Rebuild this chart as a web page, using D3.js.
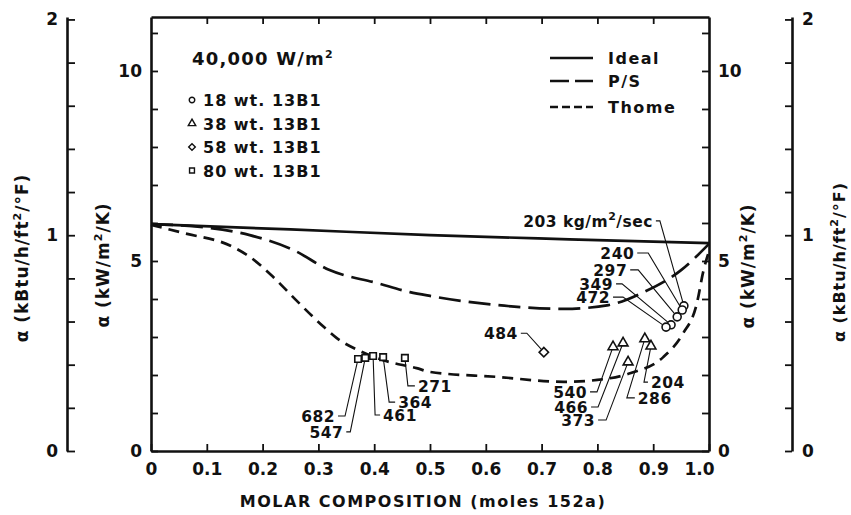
<!DOCTYPE html>
<html>
<head>
<meta charset="utf-8">
<script src="https://cdn.jsdelivr.net/npm/d3@7"></script>
<style>
  body { margin: 0; background: #fff; }
  svg text { font-family: "DejaVu Sans", "Liberation Sans", Arial, sans-serif; font-weight: bold; fill: #111; }
</style>
</head>
<body>
<svg id="chart" width="851" height="515"></svg>
<script>
// curves: [molar fraction 152a, alpha kW/m2/K]
const idealCurve = [[0, 5.97], [0.25, 5.83], [0.5, 5.68], [0.75, 5.57], [1.0, 5.47]];
const psCurve = [[0, 5.97], [0.1, 5.88], [0.177, 5.68], [0.255, 5.29], [0.32, 4.76], [0.405, 4.42],
  [0.464, 4.18], [0.5, 4.08], [0.62, 3.84], [0.74, 3.74], [0.82, 3.84], [0.88, 4.16], [0.95, 4.76], [1.0, 5.45]];
const thomeCurve = [[0, 5.95], [0.057, 5.74], [0.147, 5.37], [0.177, 5.11], [0.219, 4.58], [0.26, 3.97],
  [0.31, 3.26], [0.333, 2.97], [0.37, 2.66], [0.416, 2.39], [0.476, 2.18], [0.5, 2.08], [0.62, 1.95],
  [0.74, 1.82], [0.8, 1.87], [0.86, 2.05], [0.918, 2.47], [0.953, 3.08], [0.978, 3.87], [0.99, 4.74], [1.0, 5.26]];

// measured points, mass flux in kg/m2/sec
const flux18 = [203, 240, 297, 349, 472];
const x18 = [0.955, 0.952, 0.943, 0.932, 0.923];
const a18 = [3.82, 3.71, 3.53, 3.32, 3.26];
const flux38 = [540, 466, 373, 286, 204];
const x38 = [0.828, 0.846, 0.855, 0.885, 0.896];
const a38 = [2.74, 2.84, 2.34, 2.95, 2.76];
const flux58 = [484];
const x58 = [0.704];
const a58 = [2.6];
const flux80 = [682, 547, 461, 364, 271];
const x80 = [0.371, 0.384, 0.398, 0.416, 0.455];
const a80 = [2.42, 2.45, 2.50, 2.47, 2.45];

const seriesNames = ['18 wt. 13B1', '38 wt. 13B1', '58 wt. 13B1', '80 wt. 13B1'];
const lineNames = ['Ideal', 'P/S', 'Thome'];
const xTicks = [0, 0.1, 0.2, 0.3, 0.4, 0.5, 0.6, 0.7, 0.8, 0.9, 1.0];
const kwPerKbtu = 5.678;

// leader layout for point labels: elbow offset, hook length, text side
const leaders = {
  203: { e: [-24, -85], h: -4, side: 'end' },
  240: { e: [-34, -57], h: -11, side: 'end' },
  297: { e: [-39, -47], h: -8, side: 'end' },
  349: { e: [-49, -41], h: -6, side: 'end' },
  472: { e: [-43, -30], h: -10, side: 'end' },
  540: { e: [-16, 45], h: -7, side: 'end' },
  466: { e: [-25, 64], h: -7, side: 'end' },
  373: { e: [-22, 58], h: -8, side: 'end' },
  286: { e: [-18, 59], h: 8, side: 'start' },
  204: { e: [-7, 36], h: 4, side: 'start' },
  484: { e: [-17, -19], h: -6, side: 'end' },
  682: { e: [-13, 57], h: -7, side: 'end' },
  547: { e: [-15, 74], h: -4, side: 'end' },
  461: { e: [2, 59], h: 5, side: 'start' },
  364: { e: [6, 45], h: 6, side: 'start' },
  271: { e: [3, 28], h: 7, side: 'start' },
};

const svg = d3.select('#chart');
const x = d3.scaleLinear().domain([0, 1]).range([151, 709]);
const y = d3.scaleLinear().domain([0, 11.42]).range([451, 17]);
const yE = d3.scaleLinear().domain([0, 11.42 / kwPerKbtu]).range([451, 17]);

function styleAxis(g) {
  g.attr('font-size', 17);
  g.select('.domain').attr('stroke', '#111').attr('stroke-width', 2.6);
  g.selectAll('.tick line').attr('stroke', '#111').attr('stroke-width', 1.8);
}

// main frame
const xAxisG = svg.append('g').attr('transform', 'translate(0,451)')
  .call(d3.axisBottom(x).tickValues(xTicks).tickSize(-7).tickSizeOuter(0).tickPadding(12)
    .tickFormat(d => d === 0 ? '0' : d.toFixed(1)))
  .call(styleAxis);
// last label sits left of the corner, clear of the right axis "0"
xAxisG.selectAll('.tick text').filter(d => d === 1).attr('x', -10);

svg.append('g').attr('transform', 'translate(0,17)')
  .call(d3.axisTop(x).tickValues(xTicks.slice(1, 10)).tickSize(-7).tickSizeOuter(0).tickFormat(''))
  .call(styleAxis);
svg.append('g').attr('transform', 'translate(151,0)')
  .call(d3.axisLeft(y).tickValues(d3.range(0, 12)).tickSize(-7).tickSizeOuter(0).tickPadding(9)
    .tickFormat(d => d % 5 === 0 ? d : ''))
  .call(styleAxis);
svg.append('g').attr('transform', 'translate(709,0)')
  .call(d3.axisRight(y).tickValues(d3.range(0, 12)).tickSize(-7).tickSizeOuter(0).tickPadding(9)
    .tickFormat(d => d % 5 === 0 ? d : ''))
  .call(styleAxis);

// outer kBtu axes
const eTicks = d3.range(0, 11).map(i => i * 0.2);
svg.append('g').attr('transform', 'translate(67,0)')
  .call(d3.axisLeft(yE).tickValues(eTicks).tickSize(-8).tickSizeOuter(0).tickPadding(9)
    .tickFormat(d => Math.abs(d - Math.round(d)) < 1e-6 ? Math.round(d) : ''))
  .call(styleAxis);
svg.append('g').attr('transform', 'translate(792,0)')
  .call(d3.axisRight(yE).tickValues(eTicks).tickSize(-7).tickSizeOuter(0).tickPadding(10)
    .tickFormat(d => Math.abs(d - Math.round(d)) < 1e-6 ? Math.round(d) : ''))
  .call(styleAxis);

// axis titles
function sup(t, s) { t.append('tspan').attr('dy', -7).attr('font-size', 11).text(s); }
function rotLabel(cx, cy, kbtu, size) {
  const t = svg.append('text').attr('transform', `translate(${cx},${cy}) rotate(-90)`)
    .attr('text-anchor', 'middle').attr('font-size', size).attr('letter-spacing', 1);
  if (kbtu) {
    t.append('tspan').text('α (kBtu/h/ft');
    sup(t, '2');
    t.append('tspan').attr('dy', 7).text('/°F)');
  } else {
    t.append('tspan').text('α (kW/m');
    sup(t, '2');
    t.append('tspan').attr('dy', 7).text('/K)');
  }
}
rotLabel(28, 258, true, 17);
rotLabel(109, 265, false, 17);
rotLabel(754, 266, false, 17);
rotLabel(845, 262, true, 16);

svg.append('text').attr('x', 423).attr('y', 507).attr('text-anchor', 'middle')
  .attr('font-size', 16).attr('letter-spacing', 1.5).text('MOLAR COMPOSITION (moles 152a)');

// curves
const line = d3.line().x(d => x(d[0])).y(d => y(d[1])).curve(d3.curveMonotoneX);
const curveStyles = [
  { data: idealCurve, dash: null, legDash: null },
  { data: psCurve, dash: '22,8', legDash: '19,6' },
  { data: thomeCurve, dash: '11,7', legDash: '8,4' },
];
curveStyles.forEach(c => {
  svg.append('path').attr('d', line(c.data)).attr('fill', 'none')
    .attr('stroke', '#111').attr('stroke-width', 2.7).attr('stroke-dasharray', c.dash);
});

// point groups
const symCircle = d3.symbol(d3.symbolCircle, 50);
const symTri = d3.symbol(d3.symbolTriangle, 42);
const symSq = d3.symbol(d3.symbolSquare, 42);
const symDia = d3.symbol(d3.symbolSquare, 44);
const groups = [
  { flux: flux18, xs: x18, as: a18, sym: symCircle, rot: 0, leg: d3.symbol(d3.symbolCircle, 24) },
  { flux: flux38, xs: x38, as: a38, sym: symTri, rot: 0, leg: d3.symbol(d3.symbolTriangle, 24) },
  { flux: flux58, xs: x58, as: a58, sym: symDia, rot: 45, leg: d3.symbol(d3.symbolSquare, 22) },
  { flux: flux80, xs: x80, as: a80, sym: symSq, rot: 0, leg: d3.symbol(d3.symbolSquare, 24) },
];

const leaderG = svg.append('g');
const markG = svg.append('g');
groups.forEach(gr => {
  const pts = gr.flux.map((f, i) => ({ f, u: gr.xs[i], a: gr.as[i] }));
  pts.forEach(p => {
    const px = x(p.u), py = y(p.a);
    const L = leaders[p.f];
    const ex = px + L.e[0], ey = py + L.e[1];
    leaderG.append('path')
      .attr('d', `M${px},${py}L${ex},${ey}H${ex + L.h}`)
      .attr('fill', 'none').attr('stroke', '#111').attr('stroke-width', 1.1);
    const tx = ex + L.h + (L.side === 'end' ? -3 : 3);
    const t = leaderG.append('text').attr('x', tx).attr('y', ey + 6)
      .attr('text-anchor', L.side).attr('font-size', 15.5).attr('letter-spacing', 0.5);
    if (p.f === 203) {
      t.append('tspan').text('203 kg/m');
      sup(t, '2');
      t.append('tspan').attr('dy', 7).text('/sec');
    } else {
      t.text(p.f);
    }
  });
  markG.selectAll(null).data(pts).join('path')
    .attr('d', gr.sym)
    .attr('transform', d => `translate(${x(d.u)},${y(d.a)}) rotate(${gr.rot})`)
    .attr('fill', '#fff').attr('stroke', '#111').attr('stroke-width', 1.6);
});

// heat flux note and symbol legend
const hf = svg.append('text').attr('x', 192).attr('y', 65).attr('font-size', 18).attr('letter-spacing', 1.2);
hf.append('tspan').text('40,000 W/m');
sup(hf, '2');

groups.forEach((gr, i) => {
  const cy = 100 + i * 23.5;
  svg.append('path').attr('d', gr.leg)
    .attr('transform', `translate(192,${cy}) rotate(${gr.rot})`)
    .attr('fill', '#fff').attr('stroke', '#111').attr('stroke-width', 1.4);
  svg.append('text').attr('x', 203).attr('y', cy + 6).attr('font-size', 16)
    .attr('letter-spacing', 1).text(seriesNames[i]);
});

// line legend
const legY = [58, 81, 107];
lineNames.forEach((n, i) => {
  svg.append('line').attr('x1', 550).attr('x2', 593).attr('y1', legY[i]).attr('y2', legY[i])
    .attr('stroke', '#111').attr('stroke-width', 2.7).attr('stroke-dasharray', curveStyles[i].legDash);
  svg.append('text').attr('x', 608).attr('y', legY[i] + 6).attr('font-size', 16)
    .attr('letter-spacing', 1.5).text(n);
});
</script>
</body>
</html>
